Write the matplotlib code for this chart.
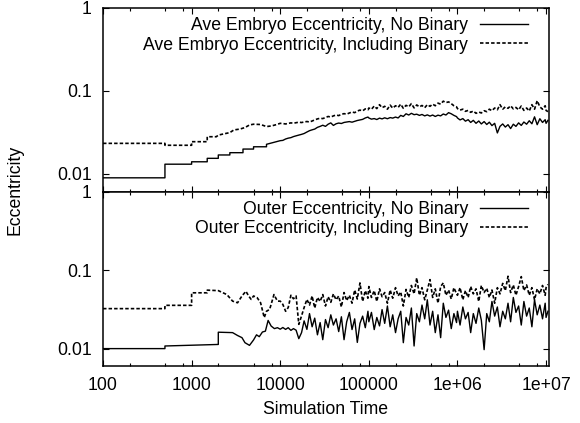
import matplotlib
matplotlib.use('Agg')
import matplotlib.pyplot as plt
from matplotlib.ticker import FixedLocator, FixedFormatter, LogLocator, NullLocator, NullFormatter

# time grid for the noisy part (mantissas per decade)
mant = [1.0, 1.07, 1.15, 1.23, 1.32, 1.41, 1.51, 1.62, 1.74, 1.86,
        2.0, 2.14, 2.29, 2.45, 2.63, 2.82, 3.02, 3.24, 3.47, 3.72,
        3.98, 4.27, 4.57, 4.9, 5.25, 5.62, 6.03, 6.46, 6.92, 7.41,
        7.94, 8.51, 9.12, 9.77]
t_grid = [m * 10**e for e in (4, 5, 6) for m in mant] + [1.0e7, 1.05e7]

# --- top panel: average embryo eccentricity ---
emb_nobin_t0 = [100, 500, 500, 1000, 1000, 1500, 1500, 2000, 2000, 2700, 2700,
                3800, 3800, 5000, 5000, 7000, 7000]
emb_nobin_v0 = [0.0089, 0.0089, 0.013, 0.013, 0.0139, 0.0139, 0.0153, 0.0153, 0.0168, 0.0168, 0.0179,
                0.0179, 0.0198, 0.0198, 0.0211, 0.0211, 0.0226]
emb_nobin = [
    0.0250, 0.0252, 0.0262, 0.0268, 0.0272, 0.0280, 0.0286, 0.0292, 0.0298, 0.0305,
    0.0318, 0.0330, 0.0338, 0.0345, 0.0362, 0.0372, 0.0384, 0.0372, 0.0395, 0.0410,
    0.0382, 0.0400, 0.0408, 0.0403, 0.0415, 0.0420, 0.0425, 0.0418, 0.0428, 0.0438,
    0.0445, 0.0452, 0.0470, 0.0482,
    0.0470, 0.0455, 0.0462, 0.0450, 0.0468, 0.0458, 0.0472, 0.0460, 0.0475, 0.0468,
    0.0482, 0.0470, 0.0505, 0.0490, 0.0528, 0.0510, 0.0535, 0.0515, 0.0522, 0.0505,
    0.0518, 0.0498, 0.0512, 0.0495, 0.0510, 0.0490, 0.0508, 0.0498, 0.0525, 0.0510,
    0.0545, 0.0528, 0.0505, 0.0488,
    0.0470, 0.0445, 0.0462, 0.0430, 0.0448, 0.0415, 0.0440, 0.0405, 0.0432, 0.0398,
    0.0425, 0.0392, 0.0418, 0.0380, 0.0405, 0.0310, 0.0372, 0.0398, 0.0365, 0.0390,
    0.0350, 0.0395, 0.0372, 0.0410, 0.0382, 0.0420, 0.0395, 0.0435, 0.0400, 0.0485,
    0.0390, 0.0460, 0.0415, 0.0448, 0.0405, 0.0440]

emb_bin_t0 = [100, 500, 500, 1000, 1000, 1500, 1500, 1900, 2000, 2700, 3000, 3500,
              4000, 4500, 5000, 6000, 7000, 8000, 9000]
emb_bin_v0 = [0.0232, 0.0232, 0.0220, 0.0220, 0.0243, 0.0243, 0.0279, 0.0279, 0.0292, 0.0313, 0.0337, 0.0345,
              0.0360, 0.0387, 0.0395, 0.0392, 0.0370, 0.0377, 0.0390]
emb_bin = [
    0.0405, 0.0402, 0.0398, 0.0404, 0.0410, 0.0406, 0.0412, 0.0418, 0.0414, 0.0420,
    0.0426, 0.0420, 0.0432, 0.0445, 0.0458, 0.0466, 0.0462, 0.0475, 0.0490, 0.0482,
    0.0498, 0.0510, 0.0502, 0.0520, 0.0530, 0.0522, 0.0540, 0.0555, 0.0545, 0.0570,
    0.0585, 0.0572, 0.0605, 0.0590,
    0.0620, 0.0598, 0.0655, 0.0610, 0.0680, 0.0625, 0.0650, 0.0600, 0.0672, 0.0618,
    0.0660, 0.0630, 0.0690, 0.0615, 0.0668, 0.0640, 0.0700, 0.0622, 0.0675, 0.0640,
    0.0665, 0.0625, 0.0680, 0.0650, 0.0690, 0.0660, 0.0710, 0.0690, 0.0750, 0.0720,
    0.0735, 0.0700, 0.0660, 0.0640,
    0.0610, 0.0585, 0.0600, 0.0565, 0.0580, 0.0550, 0.0570, 0.0535, 0.0555, 0.0540,
    0.0575, 0.0560, 0.0600, 0.0575, 0.0620, 0.0590, 0.0680, 0.0600, 0.0640, 0.0615,
    0.0660, 0.0605, 0.0630, 0.0590, 0.0655, 0.0580, 0.0620, 0.0570, 0.0680, 0.0600,
    0.0760, 0.0640, 0.0600, 0.0660, 0.0580, 0.0560]

# --- bottom panel: outer eccentricity ---
out_nobin_t0 = [100, 500, 500, 2000, 2000, 2900, 3300, 3700, 4000, 4500, 5000, 5400,
                5800, 6300, 6800, 7300, 7900, 8600, 9300]
out_nobin_v0 = [0.0100, 0.0100, 0.0108, 0.0113, 0.0162, 0.0160, 0.0147, 0.0138, 0.0119, 0.0110, 0.0129, 0.0150,
                0.0142, 0.0163, 0.0167, 0.0229, 0.0194, 0.0180, 0.0185]
out_nobin = [
    0.0177, 0.0186, 0.0176, 0.0185, 0.0171, 0.0180, 0.0172, 0.0134, 0.0160, 0.0226,
    0.0176, 0.0280, 0.0190, 0.0245, 0.0150, 0.0215, 0.0130, 0.0235, 0.0185, 0.0270,
    0.0200, 0.0240, 0.0165, 0.0255, 0.0130, 0.0220, 0.0290, 0.0175, 0.0240, 0.0120,
    0.0210, 0.0260, 0.0185, 0.0300,
    0.0220, 0.0290, 0.0175, 0.0250, 0.0195, 0.0315, 0.0210, 0.0350, 0.0190, 0.0270,
    0.0160, 0.0240, 0.0300, 0.0119, 0.0250, 0.0200, 0.0330, 0.0108, 0.0280, 0.0220,
    0.0360, 0.0240, 0.0420, 0.0200, 0.0300, 0.0160, 0.0270, 0.0138, 0.0380, 0.0250,
    0.0310, 0.0180, 0.0280, 0.0215,
    0.0300, 0.0200, 0.0340, 0.0240, 0.0290, 0.0160, 0.0280, 0.0210, 0.0330, 0.0230,
    0.0097, 0.0280, 0.0220, 0.0400, 0.0260, 0.0340, 0.0190, 0.0300, 0.0240, 0.0380,
    0.0220, 0.0450, 0.0290, 0.0350, 0.0200, 0.0400, 0.0260, 0.0330, 0.0190, 0.0420,
    0.0270, 0.0360, 0.0240, 0.0380, 0.0250, 0.0300]

out_bin_t0 = [100, 500, 500, 1000, 1000, 1500, 1500, 2000, 2500, 2900, 3300, 3700,
              4100, 4400, 4700, 5000, 5500, 6000, 6600, 7000, 7600, 8500, 9300]
out_bin_v0 = [0.0324, 0.0324, 0.0357, 0.0357, 0.0516, 0.0516, 0.0558, 0.0550, 0.0490, 0.0404, 0.0385, 0.0470,
              0.0540, 0.0470, 0.0425, 0.0470, 0.0446, 0.0385, 0.0249, 0.0300, 0.0317, 0.0490, 0.0404]
out_bin = [
    0.0404, 0.0367, 0.0300, 0.0334, 0.0480, 0.0433, 0.0470, 0.0204, 0.0262, 0.0334,
    0.0425, 0.0360, 0.0470, 0.0330, 0.0450, 0.0400, 0.0490, 0.0350, 0.0460, 0.0390,
    0.0500, 0.0420, 0.0470, 0.0340, 0.0520, 0.0410, 0.0480, 0.0380, 0.0560, 0.0430,
    0.0690, 0.0400, 0.0550, 0.0440,
    0.0620, 0.0450, 0.0550, 0.0400, 0.0580, 0.0460, 0.0520, 0.0380, 0.0560, 0.0440,
    0.0600, 0.0470, 0.0530, 0.0350, 0.0570, 0.0450, 0.0640, 0.0500, 0.0800, 0.0480,
    0.0600, 0.0420, 0.0560, 0.0760, 0.0450, 0.0580, 0.0380, 0.0620, 0.0690, 0.0480,
    0.0560, 0.0430, 0.0600, 0.0500,
    0.0480, 0.0600, 0.0420, 0.0550, 0.0450, 0.0620, 0.0500, 0.0580, 0.0400, 0.0640,
    0.0520, 0.0590, 0.0450, 0.0560, 0.0380, 0.0600, 0.0500, 0.0680, 0.0550, 0.0840,
    0.0520, 0.0650, 0.0480, 0.0620, 0.0830, 0.0550, 0.0650, 0.0480, 0.0600, 0.0420,
    0.0580, 0.0500, 0.0640, 0.0480, 0.0600, 0.0660]

x_ticks = [100, 1000, 10000, 100000, 1e6, 1e7]
x_labels = ['100', '1000', '10000', '100000', '1e+06', '1e+07']
y_ticks = [0.01, 0.1, 1]
y_labels = ['0.01', '0.1', '1']

plt.rcParams['font.family'] = ['Liberation Sans', 'DejaVu Sans']
plt.rcParams['font.size'] = 12.7
plt.rcParams['lines.scale_dashes'] = False

fig = plt.figure(figsize=(5.8, 4.23), dpi=100)
ax1 = fig.add_axes([0.1776, 0.5461, 0.769, 0.435])
ax2 = fig.add_axes([0.1776, 0.1348, 0.769, 0.4113])

dash = (0, (2.5, 1.5))

ax1.plot(emb_nobin_t0 + t_grid, emb_nobin_v0 + emb_nobin, color='black', lw=1.0,
         label='Ave Embryo Eccentricity, No Binary')
ax1.plot(emb_bin_t0 + t_grid, emb_bin_v0 + emb_bin, color='black', lw=1.2, ls=dash,
         label='Ave Embryo Eccentricity, Including Binary')
ax2.plot(out_nobin_t0 + t_grid, out_nobin_v0 + out_nobin, color='black', lw=1.0,
         label='Outer Eccentricity, No Binary')
ax2.plot(out_bin_t0 + t_grid, out_bin_v0 + out_bin, color='black', lw=1.2, ls=dash,
         label='Outer Eccentricity, Including Binary')

for ax, top in ((ax1, 0.950), (ax2, 0.949)):
    ax.set_xscale('log')
    ax.set_yscale('log')
    ax.set_xlim(100, 1.08e7)
    ax.set_ylim(0.006, 1)
    ax.xaxis.set_major_locator(FixedLocator(x_ticks))
    ax.xaxis.set_major_formatter(FixedFormatter(x_labels))
    ax.xaxis.set_minor_locator(LogLocator(base=10, subs=(2, 5, 8)))
    ax.xaxis.set_minor_formatter(NullFormatter())
    ax.yaxis.set_major_locator(FixedLocator(y_ticks))
    ax.yaxis.set_major_formatter(FixedFormatter(y_labels))
    ax.yaxis.set_minor_locator(NullLocator())
    ax.tick_params(which='both', direction='in', top=True, right=True, width=0.8)
    ax.tick_params(which='major', length=4, pad=8)
    ax.tick_params(which='minor', length=2)
    for sp in ax.spines.values():
        sp.set_linewidth(1.1)
    ax.legend(loc='upper right', bbox_to_anchor=(0.953, top), frameon=False,
              markerfirst=False, handlelength=2.72, handletextpad=0.68,
              labelspacing=0.14, borderpad=0, borderaxespad=0, fontsize=12.7)

ax1.tick_params(labelbottom=False)

fig.text(0.026, 0.551, 'Eccentricity', rotation=90, ha='center', va='center')
fig.text(0.562, 0.033, 'Simulation Time', ha='center', va='center')

fig.savefig('out.png', dpi=100)
